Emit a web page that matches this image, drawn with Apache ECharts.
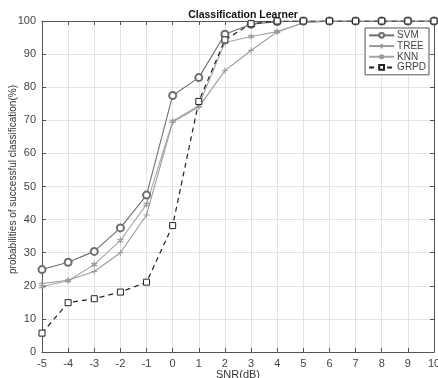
<!DOCTYPE html>
<html>
<head>
<meta charset="utf-8">
<script src="https://cdn.jsdelivr.net/npm/echarts@6/dist/echarts.min.js"></script>
<style>
  html, body { margin: 0; padding: 0; background: #fff; }
  #chart { width: 438px; height: 378px; }
</style>
</head>
<body>
<div id="chart"></div>
<script>
// SNR values (dB) on the x axis
const snr = [-5, -4, -3, -2, -1, 0, 1, 2, 3, 4, 5, 6, 7, 8, 9, 10];

// Success rate (%) for each classifier
const svm  = [24.9, 27.1, 30.4, 37.5, 47.4, 77.5, 82.9, 96.0, 99.0, 99.8, 100, 100, 100, 100, 100, 100];
const tree = [20.7, 21.7, 24.3, 30.0, 41.4, 69.5, 74.0, 85.0, 91.1, 96.7, 99.5, 100, 100, 100, 100, 100];
const knn  = [19.8, 21.5, 26.4, 33.7, 44.6, 69.7, 74.5, 93.5, 95.3, 96.8, 99.5, 100, 100, 100, 100, 100];
const grpd = [5.7, 14.9, 16.1, 18.1, 21.1, 38.2, 75.7, 94.3, 99.2, 100, 100, 100, 100, 100, 100, 100];

const xTicks = [-5, -4, -3, -2, -1, 0, 1, 2, 3, 4, 5, 6, 7, 8, 9, 10];
const yTicks = [0, 10, 20, 30, 40, 50, 60, 70, 80, 90, 100];

const pair = (ys) => snr.map((x, i) => [x, ys[i]]);

const font = 'Liberation Sans, Arial, sans-serif';
const axisLineColor = '#555';

const chart = echarts.init(document.getElementById('chart'), null, { renderer: 'canvas' });

const baseX = {
  type: 'value', min: xTicks[0], max: xTicks[xTicks.length - 1], interval: 1,
  axisLine: { show: true, onZero: false, lineStyle: { color: axisLineColor, width: 1 } },
  axisTick: { show: true, inside: true, length: 4, lineStyle: { color: axisLineColor } },
  splitLine: { show: false }
};
const baseY = {
  type: 'value', min: yTicks[0], max: yTicks[yTicks.length - 1], interval: 10,
  axisLine: { show: true, onZero: false, lineStyle: { color: axisLineColor, width: 1 } },
  axisTick: { show: true, inside: true, length: 4, lineStyle: { color: axisLineColor } },
  splitLine: { show: false }
};

chart.setOption({
  animation: false,
  backgroundColor: '#fff',
  title: {
    text: 'Classification Learner',
    left: 238, top: 5, textAlign: 'center',
    textStyle: { fontFamily: font, fontSize: 10.5, fontWeight: 'bold', color: '#111' }
  },
  grid: { left: 42, right: 4, top: 21, bottom: 26, containLabel: false, outerBoundsMode: 'none' },
  legend: {
    orient: 'vertical', right: 9, top: 28,
    backgroundColor: '#fff', borderColor: axisLineColor, borderWidth: 1,
    padding: [2, 3, 2, 3], itemGap: 0, itemWidth: 25, itemHeight: 6,
    textStyle: { fontFamily: font, fontSize: 10, lineHeight: 10.7, color: '#444', padding: [0, 0, 0, -2] },
    data: ['SVM', 'TREE', 'KNN', 'GRPD']
  },
  xAxis: [
    Object.assign({}, baseX, {
      position: 'bottom',
      name: 'SNR(dB)', nameLocation: 'middle', nameGap: 17, nameMoveOverlap: false,
      nameTextStyle: { fontFamily: font, fontSize: 11, color: '#333', verticalAlign: 'top' },
      axisLabel: { show: true, fontFamily: font, fontSize: 11, color: '#444', margin: 6 },
      splitLine: { show: true, lineStyle: { color: '#e3e3e3', width: 1 } }
    }),
    Object.assign({}, baseX, { position: 'top', axisLabel: { show: false } })
  ],
  yAxis: [
    Object.assign({}, baseY, {
      position: 'left',
      name: 'probabilities of successful classification(%)', nameLocation: 'middle', nameGap: 24, nameMoveOverlap: false,
      nameTextStyle: { fontFamily: font, fontSize: 10, color: '#333', padding: [0, 0, 0, 14] },
      axisLabel: { show: true, fontFamily: font, fontSize: 11, color: '#444', margin: 6 },
      splitLine: { show: true, lineStyle: { color: '#e3e3e3', width: 1 } }
    }),
    Object.assign({}, baseY, { position: 'right', axisLabel: { show: false } })
  ],
  series: [
    {
      name: 'SVM', type: 'line', data: pair(svm),
      symbol: 'emptyCircle', symbolSize: 7, showAllSymbol: true,
      lineStyle: { color: '#6e6e6e', width: 1.1 },
      itemStyle: { color: '#6e6e6e', borderColor: '#6e6e6e', borderWidth: 1 }
    },
    {
      name: 'TREE', type: 'line', data: pair(tree),
      symbol: 'path://M0,-5L0,5M-5,0L5,0', symbolSize: 6, showAllSymbol: true,
      lineStyle: { color: '#9a9a9a', width: 1.1 },
      itemStyle: { color: 'none', borderColor: '#9a9a9a', borderWidth: 1 }
    },
    {
      name: 'KNN', type: 'line', data: pair(knn),
      symbol: 'path://M0,-5L0,5M-4.3,-2.5L4.3,2.5M-4.3,2.5L4.3,-2.5', symbolSize: 6, showAllSymbol: true,
      lineStyle: { color: '#a4a4a4', width: 1.1 },
      itemStyle: { color: 'none', borderColor: '#999', borderWidth: 1.2 }
    },
    {
      name: 'GRPD', type: 'line', data: pair(grpd),
      symbol: 'rect', symbolSize: 6, showAllSymbol: true,
      lineStyle: { color: '#222', width: 1.2, type: [5, 4] },
      itemStyle: { color: '#fff', borderColor: '#222', borderWidth: 1 }
    }
  ]
});
</script>
</body>
</html>
